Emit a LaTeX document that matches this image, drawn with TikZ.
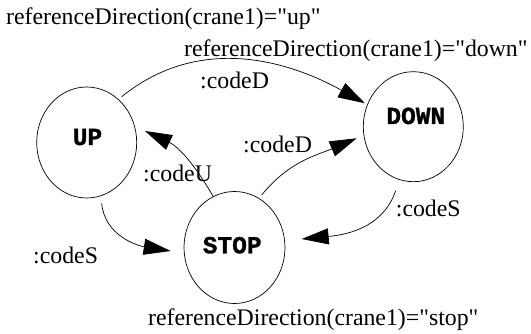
\documentclass[tikz,border=0pt]{standalone}
\usepackage{fontspec}
\setmainfont{Liberation Serif}[Ligatures=TeXOff]
\newfontfamily\statefont{Liberation Mono}[BoldFeatures={FakeBold=1.2}]
\usetikzlibrary{shapes.geometric,arrows.meta}

\begin{document}
\begin{tikzpicture}[x=1pt,y=1pt,
        statebox/.style={draw, ellipse, line width=0.7pt, inner sep=0pt},
        statetxt/.style={anchor=base, inner sep=0pt, font=\fontsize{24.5}{28}\selectfont\statefont\bfseries},
        lbl/.style={anchor=base west, inner sep=0pt, font=\fontsize{23.8}{28}\selectfont},
        trans/.style={line width=0.7pt, -{Triangle[length=27pt,width=16pt]}}]
    \useasboundingbox (0,0) rectangle (531,-334);

    \node[statebox, minimum width=100pt, minimum height=111pt] (up) at (86.7,-142.5) {};
    \node[statebox, minimum width=101pt, minimum height=112pt] (stop) at (234.5,-247.5) {};
    \node[statebox, minimum width=100pt, minimum height=110pt] (down) at (413.3,-126.7) {};

    \node[statetxt] (uptxt) at (87.5,-145) {UP};
    \node[statetxt] (stoptxt) at (232.2,-253.3) {STOP};
    \node[statetxt] (downtxt) at (415.8,-124) {DOWN};

    \node[lbl] (upcond) at (6,-25) {referenceDirection(crane1)="up"};
    \node[lbl] (downcond) at (184,-56.5) {referenceDirection(crane1)="down"};
    \node[lbl] (stopcond) at (148,-325.5) {referenceDirection(crane1)="stop"};

    \node[lbl] (codeDtop) at (200,-88.5) {:codeD};
    \node[lbl] (codeU) at (143,-181.7) {:codeU};
    \node[lbl] (codeDmid) at (243,-152.7) {:codeD};
    \node[lbl] (codeSleft) at (33,-263.3) {:codeS};
    \node[lbl] (codeSright) at (395.7,-216.7) {:codeS};

    \draw[trans] ([shift={(35,45.8)}]up.center) to[out=39,in=151] ([shift={(-48.3,23.4)}]down.center);
    \draw[trans] ([shift={(-21.2,50.8)}]stop.center) to[out=120,in=-25] ([shift={(58.3,11.5)}]up.center);
    \draw[trans] ([shift={(27.2,52.5)}]stop.center) to[out=51,in=203] ([shift={(-56.6,-11.6)}]down.center);
    \draw[trans] ([shift={(15,-60.8)}]up.center) to[out=-85,in=171] ([shift={(-63.8,-3.5)}]stop.center);
    \draw[trans] ([shift={(-17.6,-64)}]down.center) to[out=251,in=5.5] ([shift={(67.2,8.5)}]stop.center);
\end{tikzpicture}
\end{document}
